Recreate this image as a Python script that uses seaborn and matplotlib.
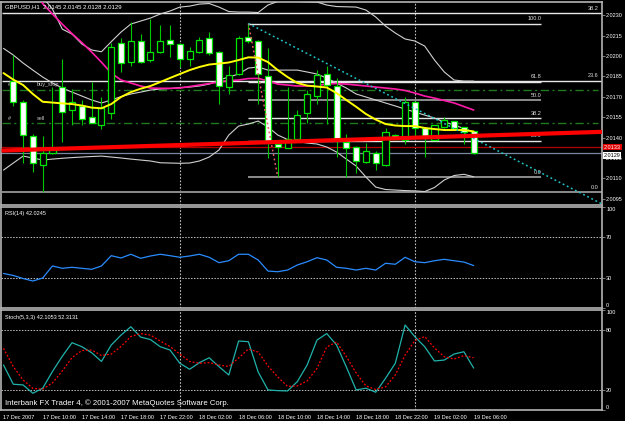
import numpy as np
import pandas as pd
import matplotlib
matplotlib.use("Agg")
import matplotlib.pyplot as plt
import matplotlib.transforms as mtransforms
import seaborn as sns

# ====== data (GBPUSD H1, bar 0 = 17 Dec 2007 06:00) ======
time_ticks = [0, 4, 8, 12, 16, 20, 24, 28, 32, 36, 40, 44, 48]
time_labels = ["17 Dec 2007", "17 Dec 10:00", "17 Dec 14:00", "17 Dec 18:00",
               "17 Dec 22:00", "18 Dec 02:00", "18 Dec 06:00", "18 Dec 10:00",
               "18 Dec 14:00", "18 Dec 18:00", "18 Dec 22:00", "19 Dec 02:00",
               "19 Dec 06:00"]
day_breaks = [18, 42]

# candles from bar 1 (07:00) to bar 48
c_open = [2.0182, 2.0166, 2.0141, 2.0120, 2.0129, 2.0177, 2.0160, 2.0163, 2.0155, 2.0149,
          2.0158, 2.0210, 2.0196, 2.0211, 2.0197, 2.0203, 2.0212, 2.0209, 2.0198, 2.0203,
          2.0213, 2.0203, 2.0177, 2.0187, 2.0214, 2.0211, 2.0185, 2.0135, 2.0132, 2.0139,
          2.0158, 2.0171, 2.0187, 2.0178, 2.0137, 2.0133, 2.0122, 2.0129, 2.0120, 2.0142,
          2.0138, 2.0166, 2.0147, 2.0138, 2.0148, 2.0152, 2.0148, 2.0145]
c_high = [2.0201, 2.0168, 2.0143, 2.0141, 2.0177, 2.0198, 2.0176, 2.0168, 2.0181, 2.0170,
          2.0210, 2.0213, 2.0225, 2.0216, 2.0227, 2.0223, 2.0223, 2.0210, 2.0207, 2.0214,
          2.0218, 2.0204, 2.0193, 2.0215, 2.0224, 2.0212, 2.0206, 2.0136, 2.0177, 2.0160,
          2.0175, 2.0190, 2.0193, 2.0184, 2.0143, 2.0134, 2.0136, 2.0130, 2.0147, 2.0143,
          2.0170, 2.0167, 2.0148, 2.0149, 2.0155, 2.0152, 2.0148, 2.0145]
c_low = [2.0163, 2.0121, 2.0115, 2.0100, 2.0128, 2.0137, 2.0149, 2.0149, 2.0151, 2.0146,
         2.0154, 2.0188, 2.0193, 2.0195, 2.0196, 2.0202, 2.0199, 2.0192, 2.0193, 2.0202,
         2.0201, 2.0165, 2.0172, 2.0186, 2.0210, 2.0165, 2.0125, 2.0111, 2.0132, 2.0138,
         2.0151, 2.0165, 2.0150, 2.0126, 2.0111, 2.0114, 2.0121, 2.0116, 2.0119, 2.0139,
         2.0135, 2.0141, 2.0126, 2.0138, 2.0147, 2.0147, 2.0135, 2.0128]
c_close = [2.0166, 2.0142, 2.0121, 2.0129, 2.0131, 2.0159, 2.0166, 2.0154, 2.0151, 2.0162,
           2.0207, 2.0195, 2.0211, 2.0196, 2.0203, 2.0211, 2.0209, 2.0198, 2.0204, 2.0212,
           2.0202, 2.0178, 2.0186, 2.0213, 2.0211, 2.0187, 2.0137, 2.0133, 2.0139, 2.0157,
           2.0172, 2.0186, 2.0179, 2.0139, 2.0132, 2.0123, 2.0130, 2.0121, 2.0144, 2.0139,
           2.0166, 2.0147, 2.0141, 2.0149, 2.0153, 2.0147, 2.0144, 2.0129]

# indicators, bars 0..48
bb_upper = [2.02854, 2.02744, 2.02633, 2.02523, 2.02435, 2.02346, 2.02199, 2.02162, 2.02089, 2.02045,
            2.02032, 2.02106, 2.02177, 2.02236, 2.02258, 2.02280, 2.02310, 2.02332, 2.02361, 2.02368,
            2.02383, 2.02387, 2.02361, 2.02328, 2.02324, 2.02324, 2.02321, 2.02376, 2.02402, 2.02407,
            2.02402, 2.02400, 2.02398, 2.02376, 2.02365, 2.02363, 2.02361, 2.02339, 2.02288, 2.02221,
            2.02170, 2.02126, 2.02111, 2.02074, 2.01971, 2.01883, 2.01824, 2.01816, 2.01816]
bb_mid = [2.02057, 2.02008, 2.01949, 2.01897, 2.01846, 2.01802, 2.01765, 2.01735, 2.01706, 2.01677,
          2.01655, 2.01677, 2.01702, 2.01721, 2.01735, 2.01750, 2.01758, 2.01761, 2.01769, 2.01772,
          2.01780, 2.01794, 2.01824, 2.01846, 2.01868, 2.01912, 2.01920, 2.01897, 2.01897, 2.01897,
          2.01897, 2.01883, 2.01868, 2.01838, 2.01802, 2.01765, 2.01721, 2.01699, 2.01677, 2.01655,
          2.01633, 2.01610, 2.01588, 2.01566, 2.01544, 2.01515, 2.01493, 2.01467, 2.01441]
bb_lower = [2.01161, 2.01213, 2.01264, 2.01250, 2.01235, 2.01242, 2.01248, 2.01253, 2.01257, 2.01261,
            2.01264, 2.01257, 2.01250, 2.01242, 2.01235, 2.01228, 2.01215, 2.01213, 2.01211, 2.01213,
            2.01228, 2.01257, 2.01309, 2.01419, 2.01485, 2.01500, 2.01522, 2.01478, 2.01419, 2.01386,
            2.01371, 2.01360, 2.01353, 2.01331, 2.01294, 2.01242, 2.01191, 2.01110, 2.01036, 2.01018,
            2.01014, 2.01010, 2.01008, 2.01003, 2.01033, 2.01088, 2.01121, 2.01130, 2.01112]
ma_fast = [2.01875, 2.01827, 2.01787, 2.01721, 2.01664, 2.01658, 2.01652, 2.01647, 2.01636, 2.01621,
           2.01616, 2.01647, 2.01699, 2.01735, 2.01760, 2.01780, 2.01809, 2.01839, 2.01868, 2.01897,
           2.01920, 2.01938, 2.01945, 2.01953, 2.01971, 2.01991, 2.01989, 2.01956, 2.01897, 2.01846,
           2.01802, 2.01783, 2.01776, 2.01769, 2.01728, 2.01677, 2.01627, 2.01574, 2.01533, 2.01500,
           2.01489, 2.01485, 2.01485, 2.01471, 2.01463, 2.01456, 2.01456, 2.01456, 2.01445]
ma_slow = [2.02854, 2.02744, 2.02633, 2.02516, 2.02387, 2.02310, 2.02235, 2.02165, 2.02100, 2.02030,
           2.01955, 2.01875, 2.01824, 2.01802, 2.01780, 2.01765, 2.01763, 2.01763, 2.01765, 2.01776,
           2.01787, 2.01798, 2.01809, 2.01820, 2.01824, 2.01835, 2.01836, 2.01817, 2.01794, 2.01787,
           2.01780, 2.01780, 2.01783, 2.01794, 2.01798, 2.01794, 2.01787, 2.01780, 2.01772, 2.01765,
           2.01758, 2.01747, 2.01728, 2.01706, 2.01691, 2.01673, 2.01655, 2.01629, 2.01603]
rsi = [34.2, 32.2, 29.2, 26.7, 29.7, 41.6, 39.3, 40.3, 39.3, 38.3,
       41.6, 51.8, 49.5, 53.2, 49.2, 51.5, 53.2, 51.8, 50.2, 51.5,
       53.2, 50.2, 44.9, 46.8, 53.2, 53.2, 47.5, 36.6, 35.9, 37.6,
       42.6, 45.8, 49.8, 47.5, 40.3, 39.3, 37.6, 39.3, 37.6, 44.3,
       43.3, 50.2, 45.8, 44.9, 46.8, 48.2, 46.8, 45.5, 42.0]
stoch_main = [45.2, 26.0, 25.3, 17.0, 22.0, 38.7, 53.8, 67.4, 63.4, 57.4,
              48.7, 65.1, 75.0, 83.3, 73.0, 70.5, 63.4, 60.1, 46.9, 40.9,
              47.5, 52.4, 43.5, 35.2, 69.1, 68.4, 38.2, 20.3, 19.6, 19.3,
              28.6, 45.2, 70.0, 76.5, 65.1, 43.2, 20.3, 22.0, 18.0, 31.9,
              46.9, 85.0, 73.3, 63.4, 49.2, 50.1, 56.1, 58.4, 42.1]
stoch_signal = [61.8, 43.5, 30.2, 21.8, 21.0, 27.3, 39.2, 52.6, 59.6, 60.1,
                54.6, 56.1, 63.6, 73.5, 76.5, 75.0, 69.1, 63.6, 56.1, 48.7,
                46.9, 47.5, 45.2, 43.7, 52.1, 61.1, 58.1, 44.2, 33.2, 23.8,
                24.3, 29.3, 41.7, 63.1, 68.1, 53.6, 37.2, 24.3, 20.8, 23.3,
                35.2, 55.1, 69.6, 73.5, 62.1, 53.4, 51.1, 54.6, 52.3]

# chart objects
fib_small_levels = [2.0224, 2.0181, 2.01675, 2.01542, 2.01377, 2.0111]
fib_small_labels = ["100.0", "61.8", "50.0", "38.2", "23.6", "0.0"]
fib_big_levels = [2.02315, 2.0182, 2.0100]
fib_big_labels = ["38.2", "23.6", "0.0"]
fib_anchor = [(25, 2.0224), (28, 2.0111)]
cyan_trend = [(25, 2.0224), (45, 2.01504)]
red_trend = [(0, 2.01305), (48, 2.01413)]
order_levels = [2.01754, 2.01505]
order_names = ["buy_stop", "sell"]
alert_price = 2.0133
bid_price = 2.0129

bars = np.arange(len(rsi))
candle_x = bars[1:]
df = pd.DataFrame({"bar": candle_x, "open": c_open, "high": c_high,
                   "low": c_low, "close": c_close})
ind = pd.DataFrame({"bar": bars, "up": bb_upper, "mid": bb_mid, "low": bb_lower,
                    "fast": ma_fast, "slow": ma_slow, "rsi": rsi,
                    "k": stoch_main, "d": stoch_signal})

# ====== style ======
sns.set_style("dark", {"axes.facecolor": "black", "figure.facecolor": "black"})
plt.rcParams["font.family"] = ["Liberation Sans", "DejaVu Sans"]

fig = plt.figure(figsize=(6.25, 4.21), dpi=100, facecolor="black")
ax = fig.add_axes([0.0024, 0.51306, 0.9608, 0.48337])
ax_rsi = fig.add_axes([0.0024, 0.26841, 0.9608, 0.2399])
ax_st = fig.add_axes([0.0024, 0.02542, 0.9608, 0.23824])

XMAX = 61.1
GRAY = "#c0c0c0"
for a in (ax, ax_rsi, ax_st):
    a.set_facecolor("black")
    a.set_xlim(-0.204, XMAX)
    a.grid(False)
    for s in a.spines.values():
        s.set_color("#b4b4b4")
        s.set_linewidth(1.2)
    a.yaxis.tick_right()
    a.tick_params(axis="y", colors="#909090", labelcolor="white", labelsize=4,
                  length=2, width=0.6, pad=1)
    a.set_xlabel("")
    a.set_ylabel("")
    for b in day_breaks:
        a.axvline(b, color=GRAY, lw=0.8, ls=(0, (1.5, 1.5)), zorder=1)

# ---- main panel ----
ax.set_ylim(2.00904, 2.02402)
ax.set_yticks(np.arange(2.0095, 2.02305, 0.0015))
ax.set_yticklabels([f"{v:.4f}" for v in np.arange(2.0095, 2.02305, 0.0015)])
ax.set_xticks([])

# fibonacci (wide)
for lv, lb in zip(fib_big_levels, fib_big_labels):
    col = "#8c8c8c" if lb == "0.0" else "#e6e6e6"
    ax.hlines(lv, -0.2, XMAX, color=col, lw=1.0 if lb != "0.0" else 1.4, zorder=1)
    ax.text(60.75, lv + 0.00018, lb, color="#e0e0e0", fontsize=4, ha="right", va="bottom")
# fibonacci (recent swing)
for lv, lb in zip(fib_small_levels, fib_small_labels):
    col = "#8c8c8c" if lb in ("50.0", "0.0") else "#e6e6e6"
    ax.hlines(lv, fib_anchor[0][0], 54.9, color=col, lw=1.0 if col != "#8c8c8c" else 1.4, zorder=1)
    ax.text(54.9, lv + 0.00018, lb, color="#e0e0e0", fontsize=4, ha="right", va="bottom")

# pending orders
for lv, nm in zip(order_levels, order_names):
    ax.hlines(lv, -0.2, 60.7, color="#1f7a1f", lw=1.0, ls=(0, (6, 2.5, 1.5, 2.5)), zorder=1)
    ax.text(0.45, lv + 0.0002, "#", color="#c8c8c8", fontsize=4, va="bottom")
    ax.text(3.4, lv + 0.0002, nm, color="#c8c8c8", fontsize=4, va="bottom")

ax.axhline(alert_price, color="#b00000", lw=0.9, zorder=2)
ax.axhline(bid_price, color="#7888a0", lw=0.9, zorder=2)

# bollinger + moving averages
for col in ("up", "mid", "low"):
    sns.lineplot(data=ind, x="bar", y=col, ax=ax, color="#d0d0d0", lw=0.8, zorder=3)
sns.lineplot(data=ind, x="bar", y="slow", ax=ax, color="#ff1aa8", lw=1.2, zorder=3)

# candles
up = df["close"] >= df["open"]
ax.vlines(df["bar"], df["low"], df["high"], color="#00c800", lw=0.8, zorder=4)
body_h = (df["close"] - df["open"]).abs().clip(lower=0.00006)
ax.bar(df["bar"][up], body_h[up], bottom=df["open"][up], width=0.62,
       color="black", edgecolor="#00e600", linewidth=0.9, zorder=5)
ax.bar(df["bar"][~up], body_h[~up], bottom=df["close"][~up], width=0.62,
       color="white", edgecolor="#00e600", linewidth=0.9, zorder=5)

sns.lineplot(data=ind, x="bar", y="fast", ax=ax, color="#ffff00", lw=1.4, zorder=6)

# trend lines
(fx0, fy0), (fx1, fy1) = fib_anchor
ax.plot([fx0, fx1], [fy0, fy1], color="#e86060", lw=1.1, ls=(0, (1.2, 1.8)), zorder=7)
(cx0, cy0), (cx1, cy1) = cyan_trend
cslope = (cy1 - cy0) / (cx1 - cx0)
ax.plot([cx0, XMAX], [cy0, cy0 + cslope * (XMAX - cx0)], color="#22c4c4", lw=1.1,
        ls=(0, (1.2, 1.8)), zorder=7)
(rx0, ry0), (rx1, ry1) = red_trend
rslope = (ry1 - ry0) / (rx1 - rx0)
ax.plot([-0.2, XMAX], [ry0 + rslope * (-0.2 - rx0), ry0 + rslope * (XMAX - rx0)],
        color="#ff0000", lw=3.0, zorder=8, solid_capstyle="butt")

# price labels on the axis
trans = mtransforms.blended_transform_factory(ax.transAxes, ax.transData)
ax.text(1.003, alert_price, f"{alert_price:.4f}", transform=trans, fontsize=4, color="white",
        va="center", ha="left", clip_on=False, zorder=10,
        bbox=dict(facecolor="#e00000", edgecolor="none", pad=0.6))
ax.text(1.003, bid_price - 0.00002, f"{bid_price:.4f}", transform=trans, fontsize=4, color="black",
        va="top", ha="left", clip_on=False, zorder=10,
        bbox=dict(facecolor="white", edgecolor="none", pad=0.6))

ax.text(0.006, 0.985, "GBPUSD,H1  2.0145 2.0145 2.0128 2.0129", transform=ax.transAxes,
        color="white", fontsize=4.3, va="top", ha="left")

# ---- RSI ----
sns.lineplot(data=ind, x="bar", y="rsi", ax=ax_rsi, color="#2a8cff", lw=0.9, zorder=3)
ax_rsi.set_ylim(0, 100)
for lv in (30, 70):
    ax_rsi.axhline(lv, color=GRAY, lw=0.7, ls=(0, (1.5, 1.5)), zorder=1)
ax_rsi.set_yticks([0, 30, 70, 100])
ax_rsi.set_yticklabels(["0", "30", "70", "100"])
ax_rsi.set_xticks([])
ax_rsi.text(0.006, 0.96, "RSI(14) 42.0245", transform=ax_rsi.transAxes, color="white",
            fontsize=4, va="top", ha="left")

# ---- Stochastic ----
sns.lineplot(data=ind, x="bar", y="k", ax=ax_st, color="#20b2aa", lw=0.9, zorder=3)
sns.lineplot(data=ind, x="bar", y="d", ax=ax_st, color="#ff0000", lw=0.9,
             ls=(0, (1.5, 1.5)), zorder=3)
ax_st.set_ylim(0, 100)
for lv in (20, 80):
    ax_st.axhline(lv, color=GRAY, lw=0.7, ls=(0, (1.5, 1.5)), zorder=1)
ax_st.set_yticks([0, 20, 80, 100])
ax_st.set_yticklabels(["0", "20", "80", "100"])
ax_st.text(0.006, 0.955, "Stoch(5,3,3) 42.1053 52.3131", transform=ax_st.transAxes,
           color="white", fontsize=4, va="top", ha="left")
ax_st.text(0.006, 0.03, "Interbank FX Trader 4, \u00a9 2001-2007 MetaQuotes Software Corp.",
           transform=ax_st.transAxes, color="white", fontsize=5.6, va="bottom", ha="left")

ax_st.set_xticks(time_ticks)
ax_st.set_xticklabels(time_labels)
ax_st.tick_params(axis="x", colors="#b4b4b4", labelcolor="white", labelsize=4,
                  length=3, width=0.6, pad=0.2)
for lab in ax_st.get_xticklabels():
    lab.set_ha("left")

for a in (ax_rsi, ax_st):
    labs = a.get_yticklabels()
    labs[0].set_va("bottom")
    labs[-1].set_va("top")

fig.savefig("out.png", dpi=100, facecolor="black")
